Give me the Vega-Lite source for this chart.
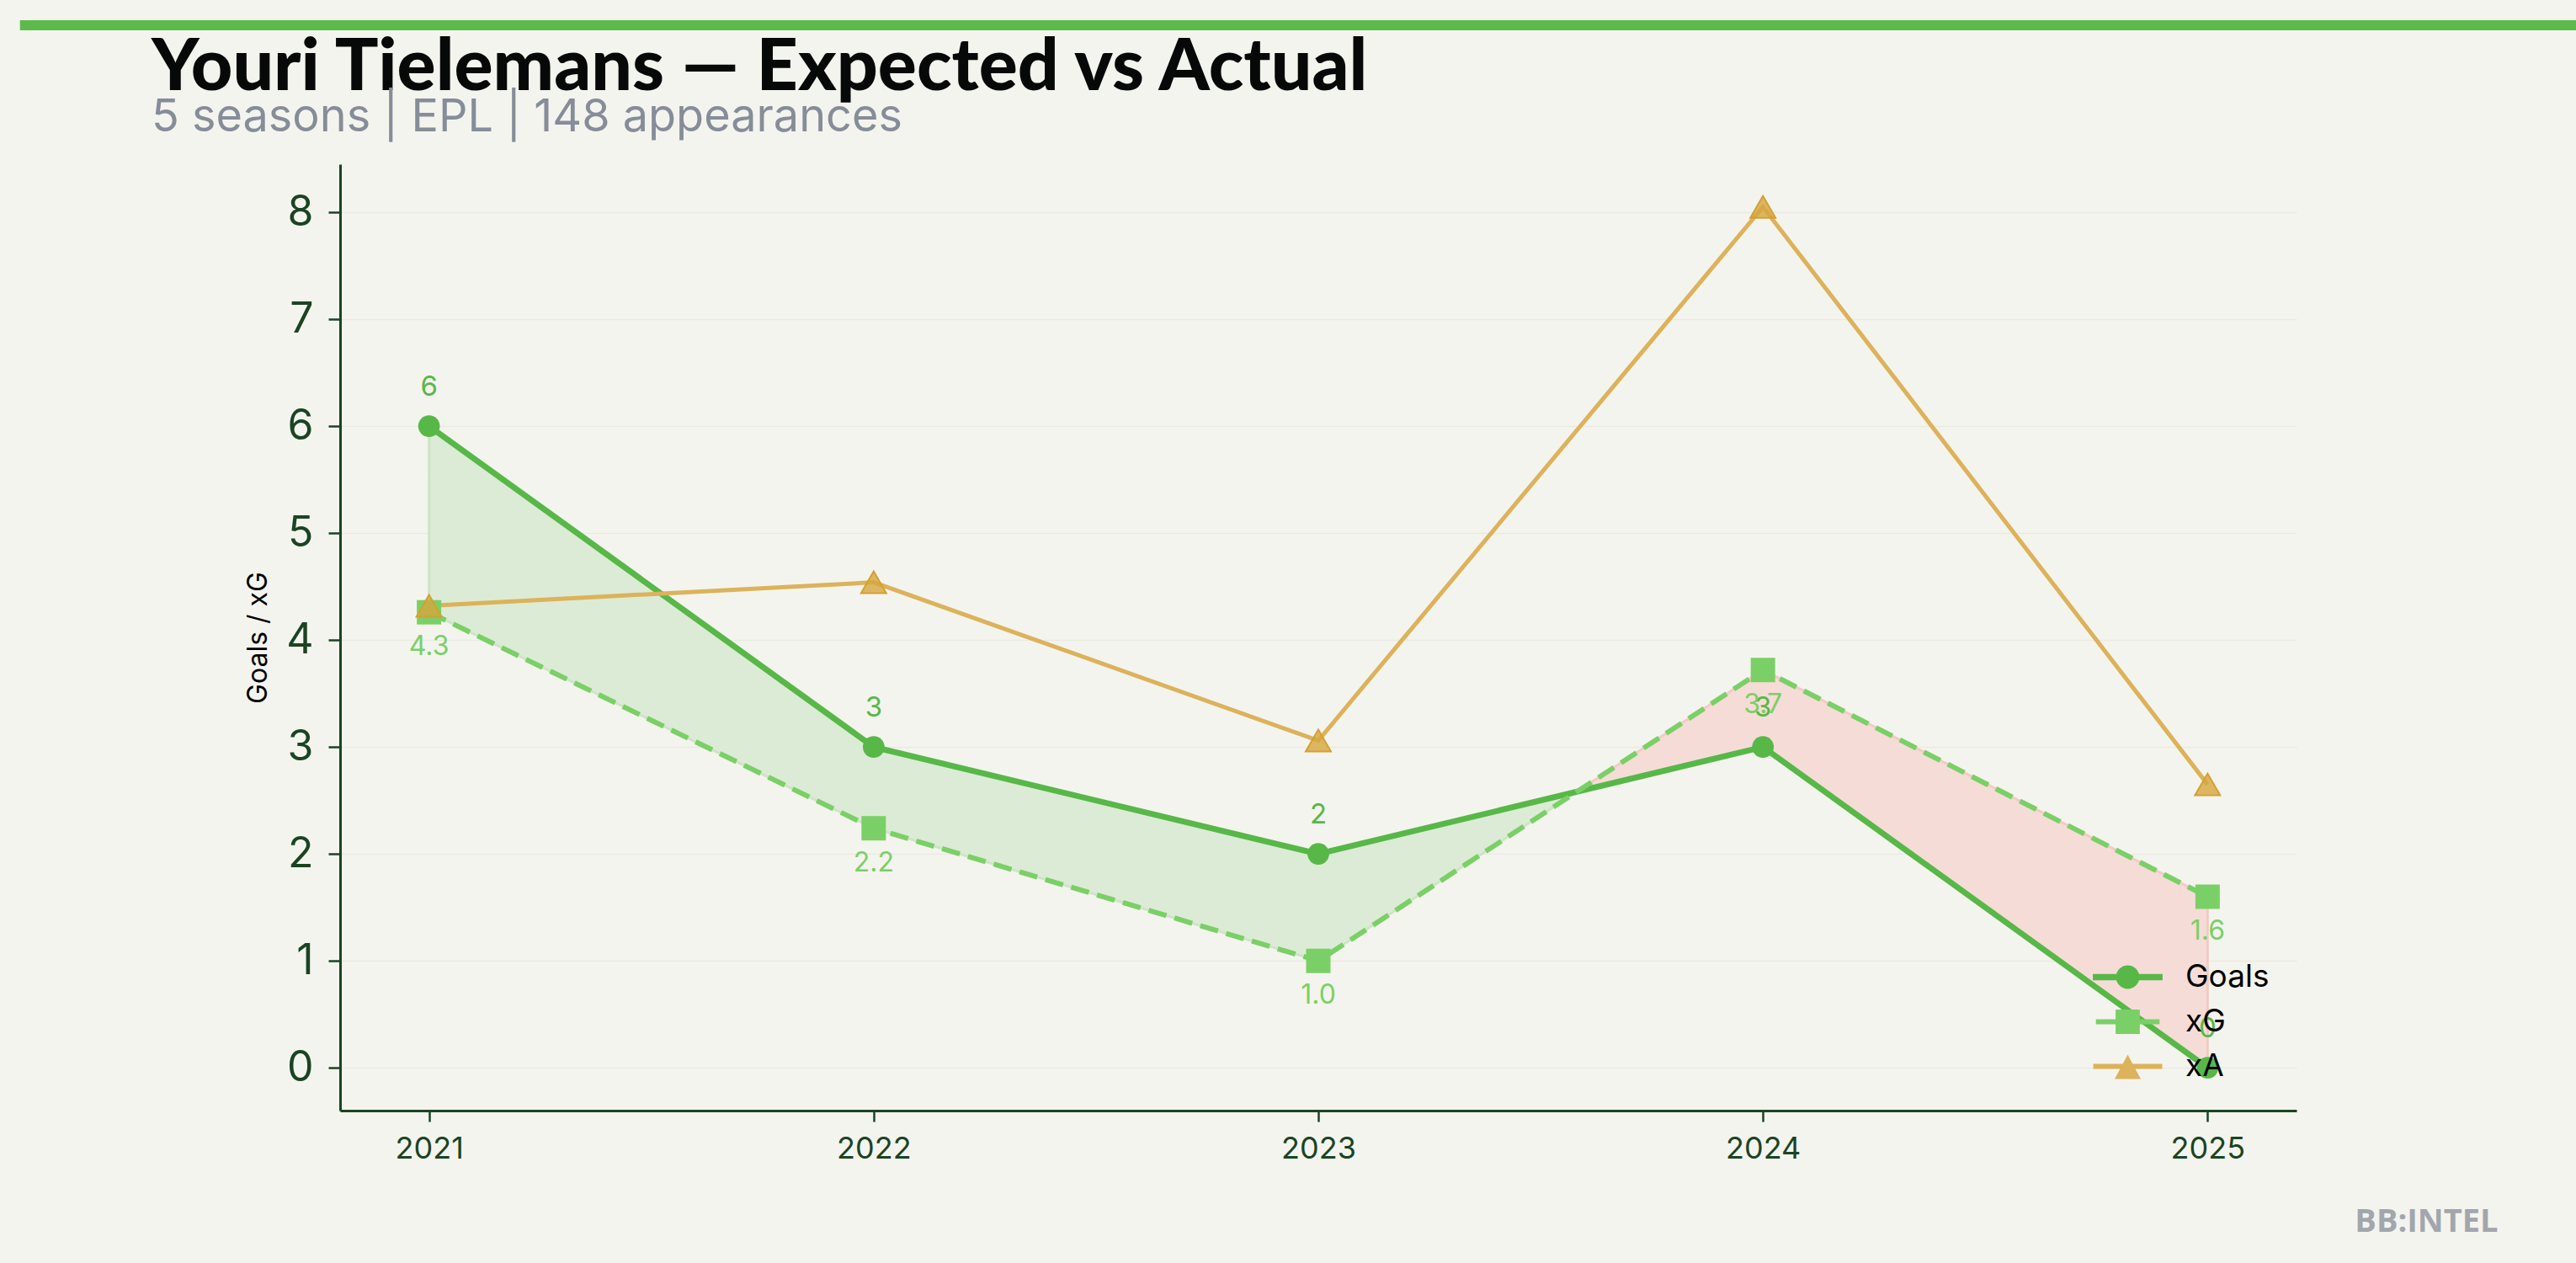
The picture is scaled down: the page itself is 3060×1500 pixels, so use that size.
{
  "$schema": "https://vega.github.io/schema/vega-lite/v6.json",
  "width": 2324,
  "height": 1124,
  "autosize": {"type": "none"},
  "padding": {"left": 404, "top": 195, "right": 332, "bottom": 181},
  "background": "#f4f4ee",
  "config": {"view": {"stroke": null}, "font": "Inter"},
  "title": {
    "text": "Youri Tielemans — Expected vs Actual",
    "subtitle": "5 seasons | EPL | 148 appearances",
    "anchor": "start",
    "frame": "group",
    "dx": -224,
    "offset": -144,
    "font": "Lato",
    "fontWeight": 900,
    "fontSize": 86,
    "color": "#070908",
    "subtitleFont": "Inter",
    "subtitleFontSize": 54,
    "subtitleColor": "#868d99",
    "subtitlePadding": -12
  },
  "data": {
    "values": [
      {"year": 2021, "Goals": 6, "xG": 4.26, "xA": 4.32},
      {"year": 2022, "Goals": 3, "xG": 2.24, "xA": 4.54},
      {"year": 2023, "Goals": 2, "xG": 1.0, "xA": 3.06},
      {"year": 2024, "Goals": 3, "xG": 3.72, "xA": 8.05},
      {"year": 2025, "Goals": 0, "xG": 1.6, "xA": 2.65}
    ]
  },
  "layer": [
    {
      "mark": {
        "type": "area",
        "orient": "vertical",
        "fill": {
          "gradient": "linear",
          "x1": 0, "x2": 1, "y1": 0, "y2": 0,
          "stops": [
            {"offset": 0, "color": "#dcebd6"},
            {"offset": 0.647, "color": "#dcebd6"},
            {"offset": 0.647, "color": "#f6dcd7"},
            {"offset": 1, "color": "#f6dcd7"}
          ]
        },
        "stroke": {
          "gradient": "linear",
          "x1": 0, "x2": 1, "y1": 0, "y2": 0,
          "stops": [
            {"offset": 0, "color": "#cfe4c7"},
            {"offset": 0.647, "color": "#cfe4c7"},
            {"offset": 0.647, "color": "#f2cbc5"},
            {"offset": 1, "color": "#f2cbc5"}
          ]
        },
        "strokeWidth": 3
      },
      "encoding": {
        "x": {
          "field": "year",
          "type": "quantitative",
          "scale": {"domain": [2020.8, 2025.2], "nice": false, "zero": false},
          "axis": {
            "values": [2021, 2022, 2023, 2024, 2025],
            "format": "d",
            "grid": false,
            "domainColor": "#1a4423",
            "domainWidth": 3,
            "tickColor": "#1a4423",
            "tickWidth": 2.5,
            "tickSize": 13,
            "labelPadding": 15,
            "labelFont": "Inter",
            "labelFontSize": 36,
            "labelColor": "#1a4423",
            "title": "BB:INTEL",
            "titleX": 2563,
            "titleY": 143,
            "titleAlign": "right",
            "titleBaseline": "alphabetic",
            "titleFont": "Open Sans",
            "titleFontWeight": "bold",
            "titleFontSize": 38,
            "titleColor": "#a2a6ad"
          }
        },
        "y": {
          "field": "Goals",
          "type": "quantitative",
          "scale": {"domain": [-0.4, 8.45], "nice": false, "zero": false},
          "axis": {
            "values": [0, 1, 2, 3, 4, 5, 6, 7, 8],
            "format": "d",
            "grid": true,
            "gridColor": "#eaeae3",
            "gridWidth": 1.5,
            "domainColor": "#1a4423",
            "domainWidth": 3,
            "tickColor": "#1a4423",
            "tickWidth": 2.5,
            "tickSize": 14,
            "labelPadding": 18,
            "labelFont": "Inter",
            "labelFontSize": 50,
            "labelColor": "#1a4423",
            "title": "Goals / xG",
            "titleFont": "Inter",
            "titleFontSize": 32,
            "titleFontWeight": "normal",
            "titleColor": "#000000",
            "titlePadding": 16
          }
        },
        "y2": {"field": "xG"}
      }
    },
    {
      "mark": {"type": "line", "color": "#57b848", "strokeWidth": 7},
      "encoding": {
        "x": {"field": "year", "type": "quantitative"},
        "y": {"field": "Goals", "type": "quantitative"}
      }
    },
    {
      "mark": {"type": "line", "color": "#7ad066", "strokeWidth": 6, "strokeDash": [22, 10]},
      "encoding": {
        "x": {"field": "year", "type": "quantitative"},
        "y": {"field": "xG", "type": "quantitative"}
      }
    },
    {
      "mark": {"type": "line", "color": "#dcb25a", "strokeWidth": 5},
      "encoding": {
        "x": {"field": "year", "type": "quantitative"},
        "y": {"field": "xA", "type": "quantitative"}
      }
    },
    {
      "mark": {"type": "point", "shape": "circle", "filled": true, "opacity": 1, "color": "#57b848", "size": 660},
      "encoding": {
        "x": {"field": "year", "type": "quantitative"},
        "y": {"field": "Goals", "type": "quantitative"}
      }
    },
    {
      "mark": {"type": "point", "shape": "square", "filled": true, "opacity": 1, "color": "#7ad066", "size": 841},
      "encoding": {
        "x": {"field": "year", "type": "quantitative"},
        "y": {"field": "xG", "type": "quantitative"}
      }
    },
    {
      "mark": {"type": "point", "shape": "triangle-up", "filled": true, "fill": "#d6a63e", "fillOpacity": 0.8, "stroke": "#d4a032", "strokeWidth": 2, "size": 900},
      "encoding": {
        "x": {"field": "year", "type": "quantitative"},
        "y": {"field": "xA", "type": "quantitative"}
      }
    },
    {
      "mark": {"type": "text", "dy": -46, "baseline": "middle", "align": "center", "font": "Inter", "fontSize": 33, "color": "#57b848"},
      "encoding": {
        "x": {"field": "year", "type": "quantitative"},
        "y": {"field": "Goals", "type": "quantitative"},
        "text": {"field": "Goals", "type": "quantitative", "format": "d"}
      }
    },
    {
      "mark": {"type": "text", "dy": 41, "baseline": "middle", "align": "center", "font": "Inter", "fontSize": 32, "color": "#7ad066"},
      "encoding": {
        "x": {"field": "year", "type": "quantitative"},
        "y": {"field": "xG", "type": "quantitative"},
        "text": {"field": "xG", "type": "quantitative", "format": ".1f"}
      }
    },
    {
      "transform": [{"fold": ["Goals", "xG", "xA"], "as": ["series", "value"]}],
      "mark": {"type": "point", "filled": true, "opacity": 0},
      "encoding": {
        "x": {"field": "year", "type": "quantitative"},
        "y": {"field": "value", "type": "quantitative"},
        "color": {
          "field": "series",
          "type": "nominal",
          "scale": {"domain": ["Goals", "xG", "xA"], "range": ["#57b848", "#7ad066", "#dcb25a"]},
          "legend": {
            "title": null,
            "orient": "none",
            "legendX": 2101,
            "legendY": 943,
            "padding": 0,
            "symbolSize": 2025,
            "symbolOpacity": 1,
            "symbolStrokeWidth": 0,
            "labelOffset": 46,
            "labelFont": "Inter",
            "labelFontSize": 37,
            "labelColor": "#000000",
            "rowPadding": 12
          }
        },
        "shape": {
          "field": "series",
          "type": "nominal",
          "scale": {
            "domain": ["Goals", "xG", "xA"],
            "range": [
              "M-1.84,-0.17H1.84V0.17H-1.84Z M0.62,0A0.62,0.62 0 1,1 -0.62,0A0.62,0.62 0 1,1 0.62,0Z",
              "M-1.68,-0.13H1.68V0.13H-1.68Z M-0.64,-0.64H0.64V0.64H-0.64Z",
              "M-1.82,-0.13H1.82V0.13H-1.82Z M0,-0.62L0.69,0.67H-0.69Z"
            ]
          },
          "legend": {
            "title": null,
            "orient": "none",
            "legendX": 2101,
            "legendY": 943,
            "padding": 0,
            "symbolSize": 2025,
            "symbolOpacity": 1,
            "symbolStrokeWidth": 0,
            "labelOffset": 46,
            "labelFont": "Inter",
            "labelFontSize": 37,
            "labelColor": "#000000",
            "rowPadding": 12
          }
        }
      }
    },
    {
      "data": {"values": [{}]},
      "mark": {"type": "rule", "color": "#5cba4b", "strokeWidth": 12, "strokeCap": "butt", "clip": false},
      "encoding": {
        "x": {"datum": 2020.08},
        "x2": {"datum": 2025.83},
        "y": {"datum": 9.749}
      }
    }
  ]
}
